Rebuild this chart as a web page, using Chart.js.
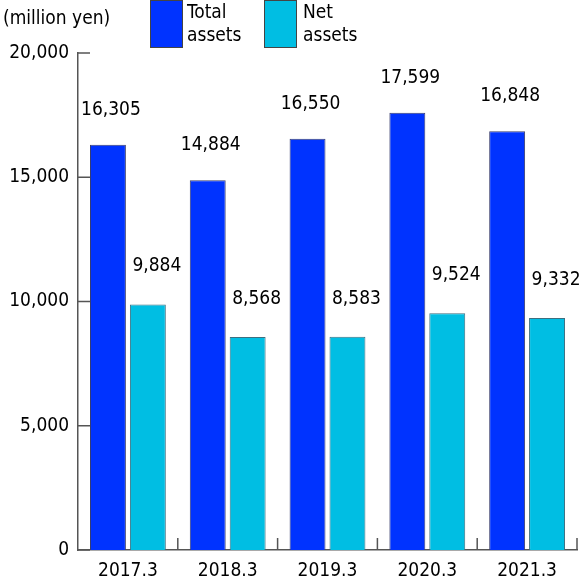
<!DOCTYPE html>
<html>
<head>
<meta charset="utf-8">
<script src="https://cdn.jsdelivr.net/npm/chart.js@4/dist/chart.umd.min.js"></script>
<style>
  html, body { margin: 0; padding: 0; background: #fff; }
  #wrap { position: relative; width: 579px; height: 584px; font-family: "DejaVu Sans Condensed", "DejaVu Sans", sans-serif; color: #000; }
  #chart { position: absolute; left: 0; top: 0; }
  .unit { position: absolute; left: 3px; top: 6px; font-size: 19px; line-height: 23px; }
  .box { position: absolute; top: 0; width: 31px; height: 46px; border: 1px solid #444; }
  .lbl { position: absolute; top: 0; font-size: 19px; line-height: 23px; }
</style>
</head>
<body>
<div id="wrap">
  <canvas id="chart" width="579" height="584"></canvas>
  <div class="unit">(million yen)</div>
  <div class="box" style="left:150px; background:#0033FF;"></div>
  <div class="lbl" style="left:187px;">Total<br>assets</div>
  <div class="box" style="left:264px; background:#00BEE3;"></div>
  <div class="lbl" style="left:303px;">Net<br>assets</div>
</div>
<script>
const years = ['2017.3', '2018.3', '2019.3', '2020.3', '2021.3'];
const totalAssets = [16305, 14884, 16550, 17599, 16848];
const netAssets = [9884, 8568, 8583, 9524, 9332];
const yTicks = [0, 5000, 10000, 15000, 20000];

const fmt = v => v.toLocaleString('en-US');
const fontFamily = '"DejaVu Sans Condensed", "DejaVu Sans", sans-serif';

// value labels above the bars
const valueLabels = {
    id: 'valueLabels',
    afterDatasetsDraw(chart) {
        const ctx = chart.ctx;
        ctx.save();
        ctx.font = '19px ' + fontFamily;
        ctx.fillStyle = '#000';
        ctx.textAlign = 'center';
        ctx.textBaseline = 'middle';
        chart.data.datasets.forEach((ds, di) => {
            const meta = chart.getDatasetMeta(di);
            const dx = di === 0 ? 3 : 9;
            const dy = di === 0 ? 35 : 38;
            meta.data.forEach((bar, i) => {
                ctx.fillText(fmt(ds.data[i]), bar.x + dx, bar.y - dy);
            });
        });
        ctx.restore();
    }
};

// short tick marks pointing into the plot
const innerTicks = {
    id: 'innerTicks',
    afterDraw(chart) {
        const ctx = chart.ctx;
        const x = chart.scales.x, y = chart.scales.y;
        ctx.save();
        ctx.strokeStyle = '#555';
        ctx.lineWidth = 1.5;
        ctx.beginPath();
        yTicks.forEach(v => {
            const py = y.getPixelForValue(v);
            ctx.moveTo(x.left, py);
            ctx.lineTo(x.left + 12, py);
        });
        const w = (x.right - x.left) / years.length;
        for (let i = 1; i <= years.length; i++) {
            const px = x.getPixelForTick(i - 1) + w / 2;
            ctx.moveTo(px, y.bottom);
            ctx.lineTo(px, y.bottom - 12);
        }
        ctx.stroke();
        ctx.restore();
    }
};

new Chart(document.getElementById('chart'), {
    type: 'bar',
    data: {
        labels: years,
        datasets: [{
            label: 'Total assets',
            data: totalAssets,
            backgroundColor: '#0033FF',
            borderColor: '#3a3f6e',
            borderWidth: 1,
            categoryPercentage: 0.8,
            barPercentage: 0.9
        }, {
            label: 'Net assets',
            data: netAssets,
            backgroundColor: '#00BEE3',
            borderColor: '#3d6f80',
            borderWidth: 1,
            categoryPercentage: 0.8,
            barPercentage: 0.9
        }]
    },
    options: {
        responsive: false,
        animation: false,
        layout: { padding: { top: 53, right: 2, left: 0, bottom: 0 } },
        plugins: {
            legend: { display: false },
            tooltip: { enabled: false }
        },
        scales: {
            x: {
                grid: { display: false, drawTicks: false },
                border: { color: '#555', width: 1.5 },
                ticks: {
                    color: '#000',
                    padding: 10,
                    font: { family: fontFamily, size: 19 }
                },
                afterFit(scale) { scale.height = 34; }
            },
            y: {
                min: 0,
                max: 20000,
                grid: { display: false, drawTicks: false },
                border: { color: '#555', width: 1.5 },
                ticks: {
                    stepSize: 5000,
                    color: '#000',
                    padding: 9,
                    font: { family: fontFamily, size: 19 },
                    callback: v => fmt(v)
                },
                afterFit(scale) { scale.width = 78; }
            }
        }
    },
    plugins: [valueLabels, innerTicks]
});
</script>
</body>
</html>
